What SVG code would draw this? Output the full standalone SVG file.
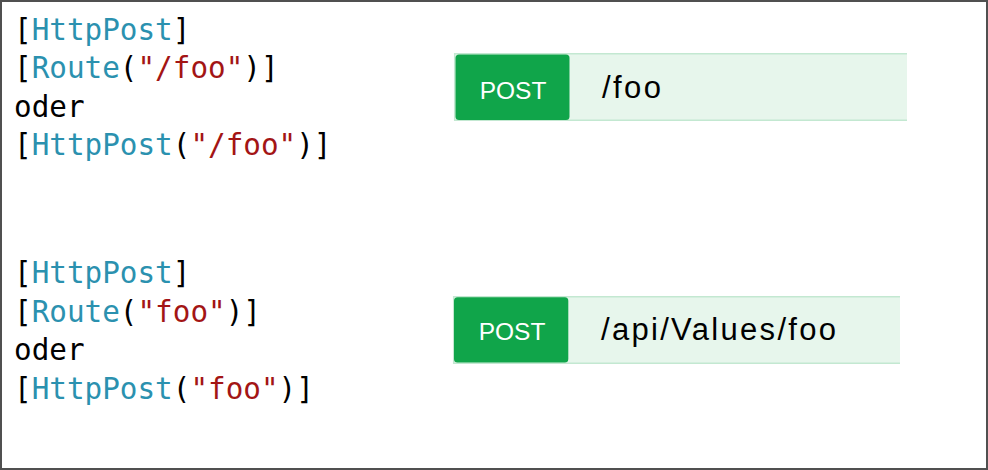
<svg xmlns="http://www.w3.org/2000/svg" width="988" height="470" viewBox="0 0 988 470">
<style>
.code{font-family:"DejaVu Sans Mono","Liberation Mono",monospace;font-size:29.3px;fill:#000}
.t{fill:#2b91af}
.s{fill:#a31515}
.panel{fill:#e7f6ec}
.pborder{stroke:#c3e8d1;stroke-width:1.5;fill:none}
.btn{fill:#10a54a}
.method{font-family:"Liberation Sans",Arial,sans-serif;font-size:24.5px;fill:#fff;text-anchor:middle}
.path{font-family:"Liberation Sans",Arial,sans-serif;font-size:31px;fill:#000}
</style>
<rect x="1" y="1" width="986" height="468" fill="#fff" stroke="#505050" stroke-width="2"/>
<g id="code1">
<text class="code" x="14" y="40">[<tspan class="t">HttpPost</tspan>]</text>
<text class="code" x="14" y="78">[<tspan class="t">Route</tspan>(<tspan class="s">"/foo"</tspan>)]</text>
<text class="code" x="14" y="117">oder</text>
<text class="code" x="14" y="155">[<tspan class="t">HttpPost</tspan>(<tspan class="s">"/foo"</tspan>)]</text>
</g>
<g id="code2">
<text class="code" x="14" y="283">[<tspan class="t">HttpPost</tspan>]</text>
<text class="code" x="14" y="322">[<tspan class="t">Route</tspan>(<tspan class="s">"foo"</tspan>)]</text>
<text class="code" x="14" y="360">oder</text>
<text class="code" x="14" y="399">[<tspan class="t">HttpPost</tspan>(<tspan class="s">"foo"</tspan>)]</text>
</g>
<g id="endpoint1">
<rect class="panel" x="454" y="53" width="453" height="68"/>
<path class="pborder" d="M907 53.7H454.7V120.3H907"/>
<rect class="btn" x="455.5" y="54.5" width="114" height="65.5" rx="3.5"/>
<text class="method" x="513" y="99">POST</text>
<text class="path" x="602" y="98" textLength="59" lengthAdjust="spacing">/foo</text>
</g>
<g id="endpoint2">
<rect class="panel" x="453" y="296" width="447" height="68"/>
<path class="pborder" d="M900 296.7H453.7V363.3H900"/>
<rect class="btn" x="454" y="297.3" width="114.3" height="65.3" rx="3.5"/>
<text class="method" x="512" y="340">POST</text>
<text class="path" x="601" y="340" textLength="235" lengthAdjust="spacing">/api/Values/foo</text>
</g>
<g id="connectors"/>
</svg>
